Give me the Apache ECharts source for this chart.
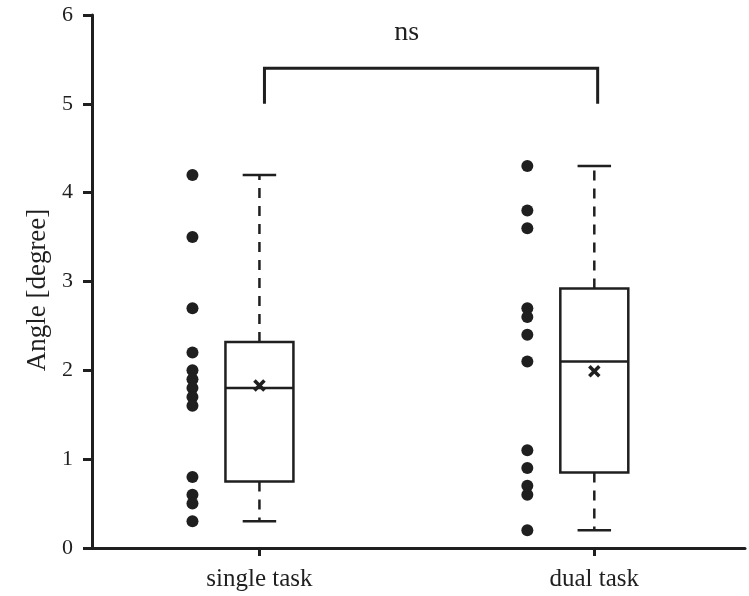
<!DOCTYPE html>
<html>
<head>
<meta charset="utf-8">
<script src="https://cdn.jsdelivr.net/npm/echarts@6/dist/echarts.min.js"></script>
<style>
  html, body { margin: 0; padding: 0; background: #fff; }
  #chart { width: 749px; height: 596px; }
</style>
</head>
<body>
<div id="chart"></div>
<script>
// categories and where they sit on the x value axis
var categories = ["single task", "dual task"];
var catPos = [1, 3];
var dotPos = [0.6, 2.6];

// individual points
var singleDots = [4.2, 3.5, 2.7, 2.2, 2.0, 1.9, 1.8, 1.7, 1.6, 0.8, 0.6, 0.5, 0.3];
var dualDots = [4.3, 3.8, 3.6, 2.7, 2.6, 2.4, 2.1, 1.1, 0.9, 0.7, 0.6, 0.2];

// box stats: min, q1, median, q3, max, mean
var singleBox = [0.3, 0.75, 1.8, 2.32, 4.2, 1.83];
var dualBox = [0.2, 0.85, 2.1, 2.92, 4.3, 1.99];

// significance bracket: x1, x2, top, leg bottom
var bracket = [1.03, 3.02, 5.4, 5.0];
var sigLabel = "ns";
var sigPos = [1.88, 5.8];

var yTicks = [0, 1, 2, 3, 4, 5, 6];

var ink = "#1f1f1f";
var serif = "Liberation Serif";

var myChart = echarts.init(document.getElementById("chart"));

var boxData = [
    [catPos[0]].concat(singleBox),
    [catPos[1]].concat(dualBox)
];

function renderBox(params, api) {
    var x = api.value(0);
    var pMin = api.coord([x, api.value(1)]);
    var pQ1 = api.coord([x, api.value(2)]);
    var pMed = api.coord([x, api.value(3)]);
    var pQ3 = api.coord([x, api.value(4)]);
    var pMax = api.coord([x, api.value(5)]);
    var pMean = api.coord([x, api.value(6)]);
    var half = api.size([0.203, 0])[0];
    var cap = api.size([0.1, 0])[0];
    var cx = pMed[0];
    var lineStyle = { stroke: ink, lineWidth: 2.5, fill: null };
    var dashStyle = { stroke: ink, lineWidth: 2.5, lineDash: [10, 8] };
    return {
        type: "group",
        children: [
            { type: "line", shape: { x1: cx, y1: pQ3[1], x2: cx, y2: pMax[1] }, style: dashStyle },
            { type: "line", shape: { x1: cx, y1: pQ1[1], x2: cx, y2: pMin[1] }, style: dashStyle },
            { type: "line", shape: { x1: cx - cap, y1: pMax[1], x2: cx + cap, y2: pMax[1] }, style: lineStyle },
            { type: "line", shape: { x1: cx - cap, y1: pMin[1], x2: cx + cap, y2: pMin[1] }, style: lineStyle },
            { type: "rect", shape: { x: cx - half, y: pQ3[1], width: half * 2, height: pQ1[1] - pQ3[1] }, style: { stroke: ink, lineWidth: 2.5, fill: "#fff" } },
            { type: "line", shape: { x1: cx - half, y1: pMed[1], x2: cx + half, y2: pMed[1] }, style: lineStyle },
            { type: "line", shape: { x1: cx - 5, y1: pMean[1] - 5, x2: cx + 5, y2: pMean[1] + 5 }, style: { stroke: ink, lineWidth: 3.5 } },
            { type: "line", shape: { x1: cx - 5, y1: pMean[1] + 5, x2: cx + 5, y2: pMean[1] - 5 }, style: { stroke: ink, lineWidth: 3.5 } }
        ]
    };
}

function renderBracket(params, api) {
    var a = api.coord([api.value(0), api.value(2)]);
    var b = api.coord([api.value(1), api.value(2)]);
    var bottom = api.coord([api.value(0), api.value(3)])[1];
    var t = api.coord([sigPos[0], sigPos[1]]);
    return {
        type: "group",
        children: [
            { type: "polyline", shape: { points: [[a[0], bottom], a, b, [b[0], bottom]] }, style: { stroke: ink, lineWidth: 3, fill: null } },
            { type: "text", x: t[0], y: t[1], style: { text: sigLabel, font: "28px " + serif, fill: ink, align: "center", verticalAlign: "middle" } }
        ]
    };
}

var option = {
    backgroundColor: "#fff",
    animation: false,
    grid: {
        left: 92,
        right: 4,
        top: 15,
        bottom: 48
    },
    xAxis: {
        type: "value",
        min: 0,
        max: 3.9,
        interval: 1,
        axisLine: { show: true, lineStyle: { color: ink, width: 3 } },
        axisTick: { show: true, customValues: catPos, length: 8, lineStyle: { color: ink, width: 3 } },
        axisLabel: {
            customValues: catPos,
            formatter: function (v) {
                var i = catPos.indexOf(v);
                return i >= 0 ? categories[i] : "";
            },
            color: ink,
            fontFamily: serif,
            fontSize: 25,
            margin: 19
        },
        splitLine: { show: false }
    },
    yAxis: {
        type: "value",
        min: yTicks[0],
        max: yTicks[yTicks.length - 1],
        interval: 1,
        name: "Angle [degree]",
        nameLocation: "middle",
        nameRotate: 90,
        nameGap: 39,
        nameTextStyle: { color: ink, fontFamily: serif, fontSize: 27, padding: [0, 17, 0, 0] },
        axisLine: { show: true, lineStyle: { color: ink, width: 3 } },
        axisTick: { show: true, length: 9, lineStyle: { color: ink, width: 3 } },
        axisLabel: { color: ink, fontFamily: serif, fontSize: 22, margin: 19 },
        splitLine: { show: false }
    },
    series: [
        {
            type: "custom",
            renderItem: renderBox,
            data: boxData,
            encode: { x: 0, y: [1, 2, 3, 4, 5] },
            z: 3
        },
        {
            type: "scatter",
            data: singleDots.map(function (v) { return [dotPos[0], v]; }),
            symbolSize: 12,
            itemStyle: { color: ink, opacity: 1 },
            z: 4
        },
        {
            type: "scatter",
            data: dualDots.map(function (v) { return [dotPos[1], v]; }),
            symbolSize: 12,
            itemStyle: { color: ink, opacity: 1 },
            z: 4
        },
        {
            type: "custom",
            renderItem: renderBracket,
            data: [bracket],
            encode: { x: [0, 1], y: [2, 3] },
            clip: false,
            z: 5
        }
    ]
};

myChart.setOption(option);
</script>
</body>
</html>
